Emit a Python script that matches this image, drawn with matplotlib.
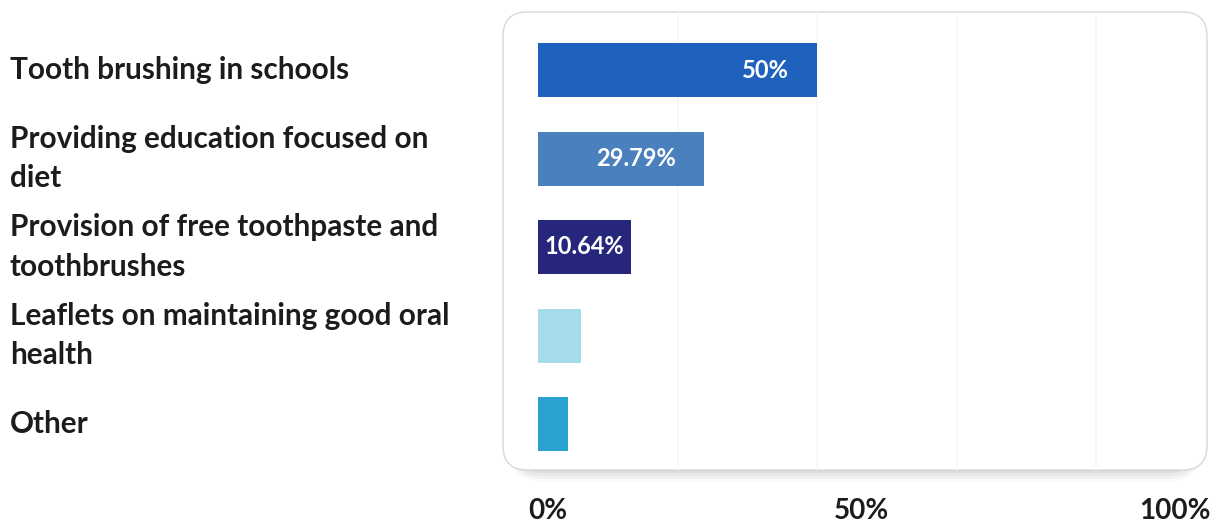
import matplotlib
matplotlib.use("Agg")
import matplotlib.pyplot as plt
from matplotlib.patches import FancyBboxPatch

categories = [
    "Tooth brushing in schools",
    "Providing education focused on\ndiet",
    "Provision of free toothpaste and\ntoothbrushes",
    "Leaflets on maintaining good oral\nhealth",
    "Other",
]
bar_lengths = [50, 29.79, 16.6, 7.7, 5.4]
value_labels = ["50%", "29.79%", "10.64%", "", ""]
bar_colors = ["#1e62be", "#4a80bd", "#26267c", "#a5dbea", "#2ba3d0"]
tick_values = [0, 50, 100]
tick_labels = ["0%", "50%", "100%"]

W, H = 1212, 527
fig = plt.figure(figsize=(W / 100, H / 100), dpi=100)
fig.patch.set_facecolor("white")

def fx(px):
    return px / W

def fy(py):
    return 1 - py / H

# rounded panel with soft shadow
box_l, box_r, box_t, box_b = 503, 1207, 12, 470
for i, a in enumerate([0.05, 0.04, 0.03, 0.02]):
    off = 3 + i * 3
    sh = FancyBboxPatch((fx(box_l + 4), fy(box_b + off)), fx(box_r - box_l - 8), fy(box_t) - fy(box_b),
                        boxstyle="round,pad=0,rounding_size=0.03", transform=fig.transFigure,
                        facecolor="black", edgecolor="none", alpha=a, zorder=0,
                        mutation_aspect=W / H)
    fig.patches.append(sh)
panel = FancyBboxPatch((fx(box_l), fy(box_b)), fx(box_r - box_l), fy(box_t) - fy(box_b),
                       boxstyle="round,pad=0,rounding_size=0.02", transform=fig.transFigure,
                       facecolor="white", edgecolor="#d8d8d8", linewidth=1.0, zorder=1,
                       mutation_aspect=W / H)
fig.patches.append(panel)

# bar axes covering the panel
ax = fig.add_axes([fx(box_l), fy(box_b), fx(box_r - box_l), fy(box_t) - fy(box_b)])
ax.set_zorder(2)
ax.patch.set_alpha(0)
px_per_pct = (817 - 538) / 50.0
ax.set_xlim((box_l - 538) / px_per_pct, (box_r - 538) / px_per_pct)
step = 88.5
c0 = 70
ax.set_ylim((box_b - c0) / step, (box_t - c0) / step)
ypos = list(range(len(categories)))
for g in [25, 50, 75, 100]:
    ax.axvline(g, color="#f7f7f7", linewidth=1.2, zorder=0)
ax.barh(ypos, bar_lengths, height=54 / step, color=bar_colors, zorder=2)
for y, v, lab in zip(ypos, bar_lengths, value_labels):
    if not lab:
        continue
    if v > 20:
        ax.text(v - 5.0, y, lab, ha="right", va="center", color="white",
                fontsize=17, fontweight="bold", family="Lato", zorder=3)
    else:
        ax.text(1.1, y, lab, ha="left", va="center", color="white",
                fontsize=17, fontweight="bold", family="Lato", zorder=3)
ax.set_xticks([])
ax.set_yticks([])
for s in ax.spines.values():
    s.set_visible(False)

# category labels on the left
for y, cat in zip(ypos, categories):
    ax.text(fx(10), fy(c0 + y * step), cat, transform=fig.transFigure, ha="left", va="center",
            fontsize=21.4, fontweight="bold", family="Lato", color="#1c1c1c",
            linespacing=1.52)

# tick labels below the panel
tax = fig.add_axes([fx(548), fy(527), fx(1175 - 548), fy(495) - fy(527)])
tax.set_xlim(0, 100)
tax.set_ylim(0, 1)
tax.axis("off")
for v, lab in zip(tick_values, tick_labels):
    tax.text(v, 0.5, lab, ha="center", va="center", fontsize=20, fontweight="bold",
             family="Lato", color="#1c1c1c")

fig.savefig("out.png", dpi=100)
